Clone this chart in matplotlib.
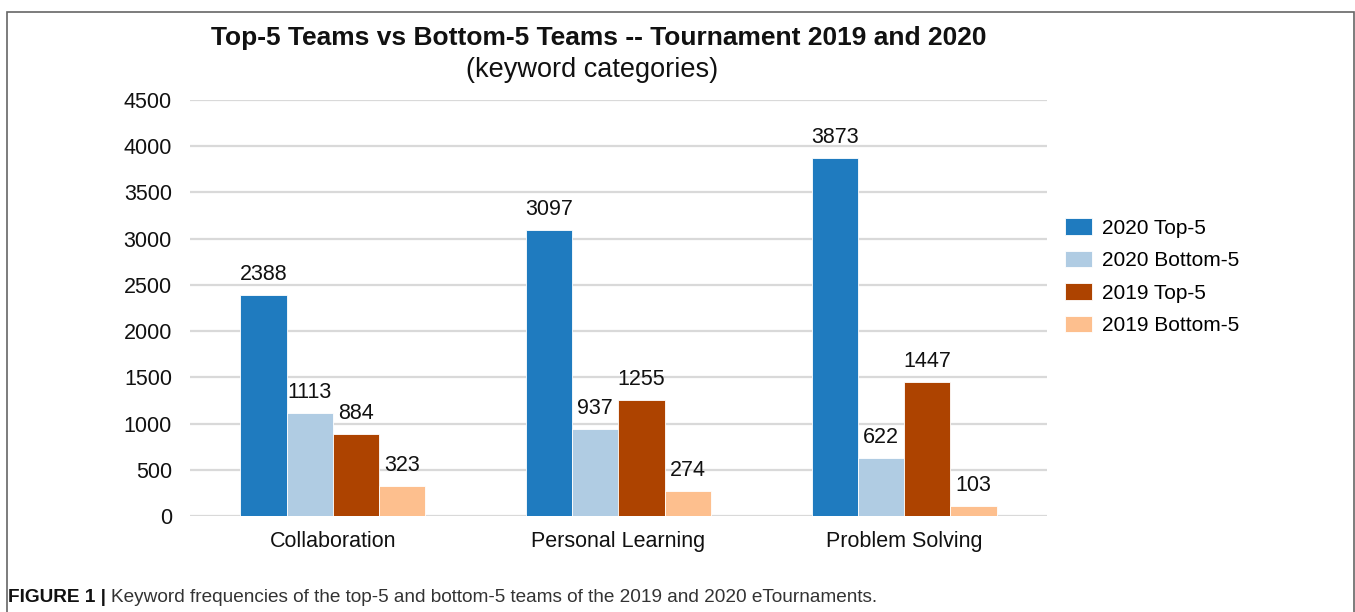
import numpy as np
import matplotlib
matplotlib.use("Agg")
import matplotlib.pyplot as plt
from matplotlib.patches import Rectangle

# dati
categories = ["Collaboration", "Personal Learning", "Problem Solving"]
series_names = ["2020 Top-5", "2020 Bottom-5", "2019 Top-5", "2019 Bottom-5"]
top_2020 = [2388, 3097, 3873]
bottom_2020 = [1113, 937, 622]
top_2019 = [884, 1255, 1447]
bottom_2019 = [323, 274, 103]
y_ticks = [0, 500, 1000, 1500, 2000, 2500, 3000, 3500, 4000, 4500]

colors = ["#1f7bbf", "#b0cce3", "#ad4300", "#fdbf8e"]

plt.rcParams['font.family'] = ['Liberation Sans', 'DejaVu Sans']

fig = plt.figure(figsize=(13.55, 6.12), dpi=100)
ax = fig.add_axes([190 / 1355, 1 - 516 / 612, (1047 - 190) / 1355, (516 - 100) / 612])

x = np.arange(len(categories))
width = 0.162
all_series = [top_2020, bottom_2020, top_2019, bottom_2019]
for i, (vals, name, col) in enumerate(zip(all_series, series_names, colors)):
    pos = x + (i - 1.5) * width
    ax.bar(pos, vals, width, color=col, edgecolor="white", linewidth=0.6, label=name, zorder=3)
    for p, v in zip(pos, vals):
        ax.text(p, v + 110, str(v), ha="center", va="bottom", fontsize=15.5, color="#111111")

ax.set_xlim(-0.5, 2.5)
ax.set_ylim(0, 4500)
ax.set_yticks(y_ticks)
ax.set_xticks(x)
ax.set_xticklabels(categories)
ax.tick_params(axis="both", length=0, labelsize=15.5, colors="#111111")
ax.tick_params(axis="y", pad=13)
ax.tick_params(axis="x", pad=11)
ax.grid(axis="y", color="#d9d9d9", linewidth=1.6, zorder=0)
for s in ax.spines.values():
    s.set_visible(False)

leg = fig.legend(loc="upper left", bbox_to_anchor=(1057 / 1355, 1 - 210 / 612), frameon=False,
                 fontsize=15, handlelength=1.3, handleheight=0.85, handletextpad=0.45,
                 labelspacing=0.62, borderaxespad=0)

fig.text(599 / 1355, 1 - 38 / 612, "Top-5 Teams vs Bottom-5 Teams -- Tournament 2019 and 2020",
         ha="center", va="center", fontsize=19, fontweight="bold", color="#111111")
fig.text(592 / 1355, 1 - 70 / 612, "(keyword categories)", ha="center", va="center",
         fontsize=19.5, color="#111111")

# cornice attorno al grafico
fig.add_artist(Rectangle((7 / 1355, -0.05), (1354 - 7) / 1355, 1 - 12 / 612 + 0.05,
                         transform=fig.transFigure, fill=False, edgecolor="#666666", linewidth=1.2))

# didascalia
t1 = fig.text(8 / 1355, 1 - 598 / 612, "FIGURE 1 |", ha="left", va="center",
              fontsize=13.7, fontweight="bold", color="#111111")
fig.canvas.draw()
bb = t1.get_window_extent()
fig.text((bb.x1 + 5) / 1355, 1 - 598 / 612,
         "Keyword frequencies of the top-5 and bottom-5 teams of the 2019 and 2020 eTournaments.",
         ha="left", va="center", fontsize=13.7, color="#333333")

fig.savefig("out.png", dpi=100)
